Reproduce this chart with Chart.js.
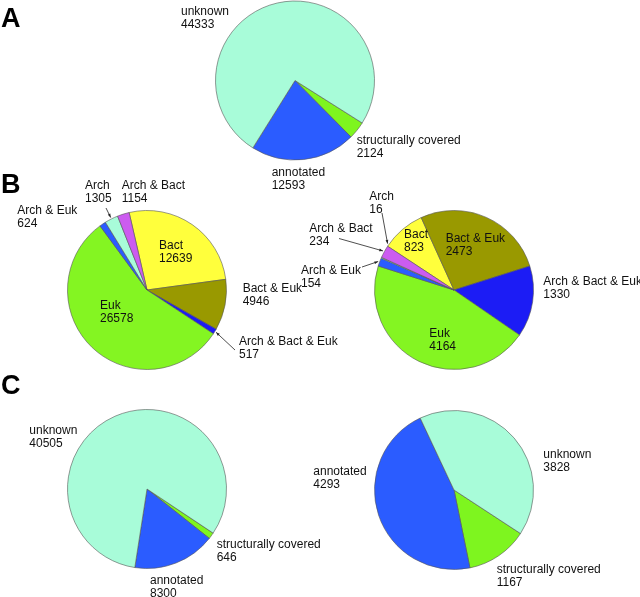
<!DOCTYPE html>
<html>
<head>
<meta charset="utf-8">
<script src="https://cdn.jsdelivr.net/npm/chart.js@4"></script>
<style>
  body { margin: 0; background: #fff; }
  #fig { position: relative; width: 640px; height: 597px; overflow: hidden; font-family: "Liberation Sans", Arial, sans-serif; }
  #fig canvas { position: absolute; left: 0; top: 0; }
  .lbl { position: absolute; font-size: 12px; line-height: 13px; color: #111; white-space: nowrap; }
  .panel { position: absolute; left: 1px; font-size: 27px; font-weight: bold; line-height: 27px; color: #000; }
</style>
</head>
<body>
<div id="fig">
  <canvas id="pieA" width="640" height="597"></canvas>
  <canvas id="pieB1" width="640" height="597"></canvas>
  <canvas id="pieB2" width="640" height="597"></canvas>
  <canvas id="pieC1" width="640" height="597"></canvas>
  <canvas id="pieC2" width="640" height="597"></canvas>
  <div class="panel" style="top:5px">A</div>
  <div class="panel" style="top:171px">B</div>
  <div class="panel" style="top:372px">C</div>
</div>
<script>
// panels A and C: coverage of the families
const coverageCats = ["structurally covered", "annotated", "unknown"];
const coverageA = [2124, 12593, 44333];
const coverageC1 = [646, 8300, 40505];
const coverageC2 = [1167, 4293, 3828];

// panel B: taxonomic distribution
const taxaCats = ["Bact", "Bact & Euk", "Arch & Bact & Euk", "Euk", "Arch & Euk", "Arch", "Arch & Bact"];
const taxaB1 = [12639, 4946, 517, 26578, 624, 1305, 1154];
const taxaB2 = [823, 2473, 1330, 4164, 154, 16, 234];

const colours = {
    "unknown": "#a8fcd9",
    "annotated": "#2b5cff",
    "structurally covered": "#7ef51f",
    "Bact": "#ffff3c",
    "Bact & Euk": "#999900",
    "Arch & Bact & Euk": "#1c1cf5",
    "Euk": "#84f522",
    "Arch & Euk": "#2b5cff",
    "Arch": "#a8fcd9",
    "Arch & Bact": "#cc5cf0"
};

// pointer lines from a label to its slice (kept out of the options resolver)
function leaderPlugin(lines) {
    return {
        id: "leaders",
        afterDatasetsDraw(chart) {
            const arcs = chart.getDatasetMeta(0).data;
            const ctx = chart.ctx;
            lines.forEach(l => {
                const a = arcs[l.slice];
                const mid = (a.startAngle + a.endAngle) / 2 + (l.shift || 0) * Math.PI / 180;
                const r = a.outerRadius + 1.5;
                const tx = a.x + r * Math.cos(mid);
                const ty = a.y + r * Math.sin(mid);
                const fx = l.from[0], fy = l.from[1];
                const ang = Math.atan2(ty - fy, tx - fx);
                ctx.save();
                ctx.strokeStyle = "#222";
                ctx.fillStyle = "#222";
                ctx.lineWidth = 0.8;
                ctx.beginPath();
                ctx.moveTo(fx, fy);
                ctx.lineTo(tx, ty);
                ctx.stroke();
                ctx.beginPath();
                ctx.moveTo(tx, ty);
                ctx.lineTo(tx - 4 * Math.cos(ang - 0.35), ty - 4 * Math.sin(ang - 0.35));
                ctx.lineTo(tx - 4 * Math.cos(ang + 0.35), ty - 4 * Math.sin(ang + 0.35));
                ctx.closePath();
                ctx.fill();
                ctx.restore();
            });
        }
    };
}

function makePie(id, cx, cy, cats, values, rotation, lines) {
    const half = 80;
    new Chart(document.getElementById(id), {
        type: "pie",
        data: {
            labels: cats,
            datasets: [{
                data: values,
                backgroundColor: cats.map(c => colours[c]),
                borderColor: "#555",
                borderWidth: 0.6
            }]
        },
        options: {
            responsive: false,
            animation: false,
            rotation: rotation,
            radius: 79.5,
            layout: {
                padding: { left: cx - half, right: 640 - cx - half, top: cy - half, bottom: 597 - cy - half }
            },
            plugins: {
                legend: { display: false },
                tooltip: { enabled: false }
            }
        },
        plugins: [leaderPlugin(lines || [])]
    });
}

function addLabels(cats, values, positions) {
    const fig = document.getElementById("fig");
    cats.forEach((c, i) => {
        const d = document.createElement("div");
        d.className = "lbl";
        d.style.left = positions[i][0] + "px";
        d.style.top = positions[i][1] + "px";
        d.innerHTML = c + "<br>" + values[i];
        fig.appendChild(d);
    });
}

makePie("pieA", 295, 80.5, coverageCats, coverageA, 122.3);
makePie("pieB1", 147, 290, taxaCats, taxaB1, -13, [
    { slice: 5, from: [106, 208] },
    { slice: 2, from: [235, 350] }
]);
makePie("pieB2", 454, 290, taxaCats, taxaB2, -56.6, [
    { slice: 5, from: [382, 213], shift: 11 },
    { slice: 6, from: [339, 238.5] },
    { slice: 4, from: [362, 267] }
]);
makePie("pieC1", 147, 489, coverageCats, coverageC1, 123.7);
makePie("pieC2", 454, 490, coverageCats, coverageC2, 123.2);

addLabels(coverageCats, coverageA, [[356.7, 133.5], [271.7, 166], [181, 4.5]]);
addLabels(taxaCats, taxaB1, [[159, 238.5], [242.7, 282], [239, 335], [100, 298.5], [17.3, 203.5], [85, 178.5], [121.7, 178.5]]);
addLabels(taxaCats, taxaB2, [[404, 228], [445.7, 232], [543.3, 275], [429.3, 327], [301, 263.5], [369.3, 189.5], [309.3, 222]]);
addLabels(coverageCats, coverageC1, [[216.7, 538], [150, 573.5], [29.3, 423.5]]);
addLabels(coverageCats, coverageC2, [[496.7, 563], [313.3, 465], [543.3, 447.5]]);
</script>
</body>
</html>
